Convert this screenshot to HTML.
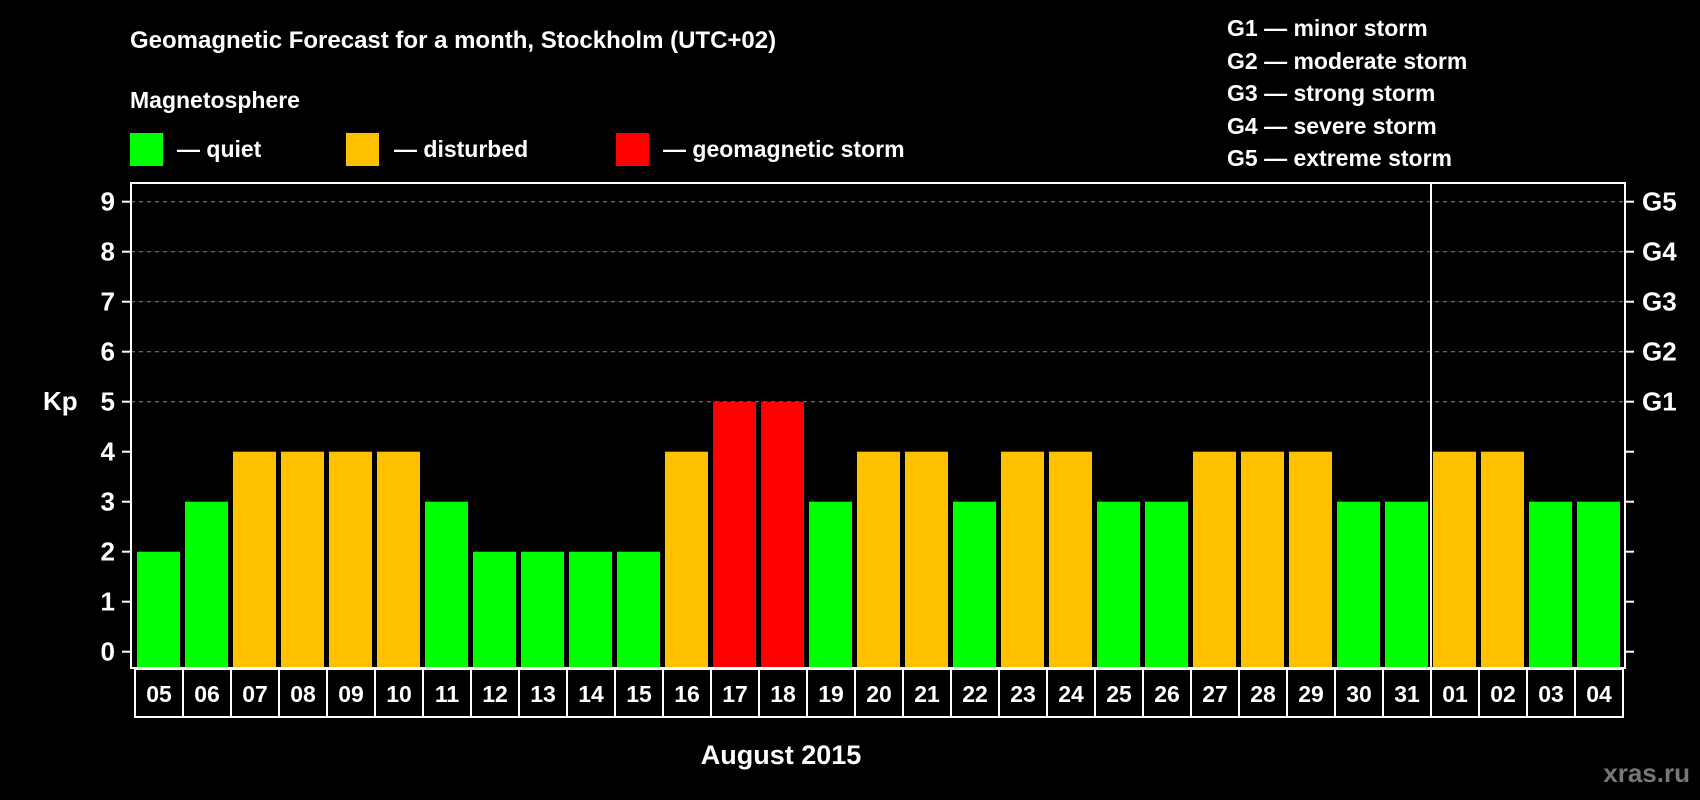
<!DOCTYPE html>
<html><head><meta charset="utf-8"><style>
html,body{margin:0;padding:0;background:#000;}
svg{display:block;font-family:"Liberation Sans",sans-serif;font-weight:bold;}
</style></head><body>
<svg id="c" width="1700" height="800" viewBox="0 0 1700 800">
<text x="130" y="48" fill="#fff" font-size="24">Geomagnetic Forecast for a month, Stockholm (UTC+02)</text>
<text x="130" y="108" fill="#fff" font-size="23">Magnetosphere</text>
<rect x="130" y="133" width="33" height="33" fill="#00ff00"/>
<text x="177" y="157" fill="#fff" font-size="23">— quiet</text>
<rect x="346" y="133" width="33" height="33" fill="#ffc000"/>
<text x="394" y="157" fill="#fff" font-size="23">— disturbed</text>
<rect x="616" y="133" width="33" height="33" fill="#ff0000"/>
<text x="663" y="157" fill="#fff" font-size="23">— geomagnetic storm</text>
<g font-size="23" fill="#fff">
<text x="1227" y="36">G1 — minor storm</text>
<text x="1227" y="69">G2 — moderate storm</text>
<text x="1227" y="101">G3 — strong storm</text>
<text x="1227" y="134">G4 — severe storm</text>
<text x="1227" y="166">G5 — extreme storm</text>
</g>
<text x="43" y="410" fill="#fff" font-size="26">Kp</text>
<text x="781" y="764" fill="#fff" font-size="27" text-anchor="middle">August 2015</text>
<text x="1690" y="782" fill="#777" font-size="26" text-anchor="end">xras.ru</text>
<g id="plot"></g>
</svg>
<script>
const days=["05","06","07","08","09","10","11","12","13","14","15","16","17","18","19","20","21","22","23","24","25","26","27","28","29","30","31","01","02","03","04"];
const kp=[2,3,4,4,4,4,3,2,2,2,2,4,5,5,3,4,4,3,4,4,3,3,4,4,4,3,3,4,4,3,3];
const yTicks=[0,1,2,3,4,5,6,7,8,9];
const gLabels=["G1","G2","G3","G4","G5"];
const NS="http://www.w3.org/2000/svg";
const g=document.getElementById('plot');
const L=131,R=1625,T=183,B=668,colL=135,colW=48,y0=651.7,unit=50;
const y=v=>y0-v*unit, xc=i=>colL+i*colW;
function mk(t,a){const e=document.createElementNS(NS,t);for(const k in a)e.setAttribute(k,a[k]);g.appendChild(e);return e;}
yTicks.forEach(v=>{
  if(v>=5){const l=mk('line',{x1:L,x2:R,y1:y(v),y2:y(v),stroke:'#888','stroke-dasharray':'4 4','stroke-width':1});
  
  }
  const t=mk('line',{x1:122,x2:L,y1:y(v),y2:y(v),stroke:'#fff','stroke-width':2});
  
  
  const t2=mk('line',{x1:R,x2:1634,y1:y(v),y2:y(v),stroke:'#fff','stroke-width':2});
  
  
  const tx=mk('text',{x:115,y:y(v)+9,fill:'#fff','font-size':26,'text-anchor':'end'});tx.textContent=v;
  
  
});
gLabels.forEach((s,i)=>{
  const tx=mk('text',{x:1642,y:y(5+i)+9,fill:'#fff','font-size':26});tx.textContent=s;
  
  
});
kp.forEach((v,i)=>{
  const col=v>=5?'#ff0000':v>=4?'#ffc000':'#00ff00';
  const r=mk('rect',{x:xc(i)+2,y:y(v),width:43,height:B-y(v),fill:col});
  
  
  const b=mk('rect',{x:xc(i),y:B+1,width:colW,height:48,fill:'none',stroke:'#fff','stroke-width':2});
  
  
  const t=mk('text',{x:xc(i)+colW/2,y:B+34,fill:'#fff','font-size':23,'text-anchor':'middle'});t.textContent=days[i];
  
  
});
const sep=days.indexOf("01");
const s=mk('line',{x1:xc(sep),x2:xc(sep),y1:T,y2:B,stroke:'#fff','stroke-width':2});


const f=mk('rect',{x:L,y:T,width:R-L,height:B-T,fill:'none',stroke:'#fff','stroke-width':2});


</script>
</body></html>
